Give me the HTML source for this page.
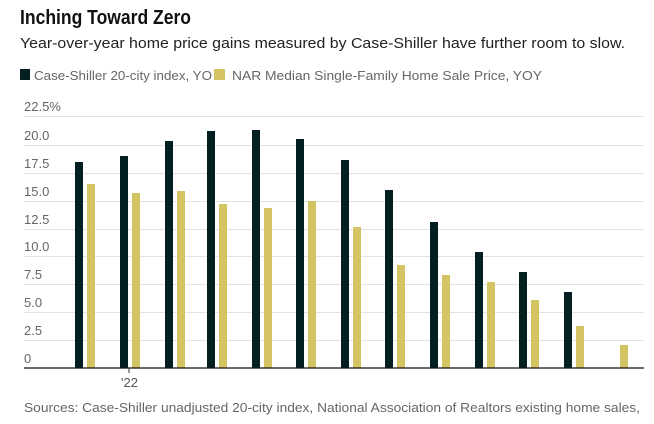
<!DOCTYPE html>
<html><head><meta charset="utf-8"><style>
html,body{margin:0;padding:0;background:#fff;}
svg{display:block;font-family:"Liberation Sans",sans-serif;}
</style></head><body>
<svg width="654" height="424" viewBox="0 0 654 424">
<text x="20" y="24" font-size="20" font-weight="bold" fill="#111" textLength="171" lengthAdjust="spacingAndGlyphs">Inching Toward Zero</text>
<text x="20" y="48" font-size="15" fill="#222" textLength="605" lengthAdjust="spacingAndGlyphs">Year-over-year home price gains measured by Case-Shiller have further room to slow.</text>
<rect x="20" y="69" width="10" height="11" fill="#031f21"/>
<text x="34" y="80" font-size="13" fill="#666" textLength="178" lengthAdjust="spacingAndGlyphs">Case-Shiller 20-city index, YO</text>
<rect x="214" y="69" width="11" height="11" fill="#d4c464"/>
<text x="232" y="80" font-size="13" fill="#666" textLength="310" lengthAdjust="spacingAndGlyphs">NAR Median Single-Family Home Sale Price, YOY</text>
<g stroke="#e2e2e2" stroke-width="1">
<line x1="24" x2="644" y1="116.5" y2="116.5"/><line x1="24" x2="644" y1="145.5" y2="145.5"/>
<line x1="24" x2="644" y1="173.5" y2="173.5"/><line x1="24" x2="644" y1="201.5" y2="201.5"/>
<line x1="24" x2="644" y1="229.5" y2="229.5"/><line x1="24" x2="644" y1="256.5" y2="256.5"/>
<line x1="24" x2="644" y1="284.5" y2="284.5"/><line x1="24" x2="644" y1="312.5" y2="312.5"/>
<line x1="24" x2="644" y1="340.5" y2="340.5"/>
</g>
<g font-size="13" fill="#666">
<text x="24" y="111">22.5%</text><text x="24" y="140">20.0</text><text x="24" y="168">17.5</text>
<text x="24" y="196">15.0</text><text x="24" y="224">12.5</text><text x="24" y="251">10.0</text>
<text x="24" y="279">7.5</text><text x="24" y="307">5.0</text><text x="24" y="335">2.5</text>
<text x="24" y="363">0</text>
</g>
<g fill="#031f21">
<rect x="75" y="162" width="8" height="206"/><rect x="120" y="156" width="8" height="212"/>
<rect x="165" y="141" width="8" height="227"/><rect x="207" y="131" width="8" height="237"/>
<rect x="252" y="130" width="8" height="238"/><rect x="296" y="139" width="8" height="229"/>
<rect x="341" y="160" width="8" height="208"/><rect x="385" y="190" width="8" height="178"/>
<rect x="430" y="222" width="8" height="146"/><rect x="475" y="252" width="8" height="116"/>
<rect x="519" y="272" width="8" height="96"/><rect x="564" y="292" width="8" height="76"/>
</g>
<g fill="#d4c464">
<rect x="87" y="184" width="8" height="184"/><rect x="132" y="193" width="8" height="175"/>
<rect x="177" y="191" width="8" height="177"/><rect x="219" y="204" width="8" height="164"/>
<rect x="264" y="208" width="8" height="160"/><rect x="308" y="201" width="8" height="167"/>
<rect x="353" y="227" width="8" height="141"/><rect x="397" y="265" width="8" height="103"/>
<rect x="442" y="275" width="8" height="93"/><rect x="487" y="282" width="8" height="86"/>
<rect x="531" y="300" width="8" height="68"/><rect x="576" y="326" width="8" height="42"/>
<rect x="620" y="345" width="8" height="23"/>
</g>
<line x1="24" x2="644" y1="368" y2="368" stroke="#111" stroke-width="1.3"/>
<line x1="129" x2="129" y1="368" y2="373" stroke="#333" stroke-width="1"/>
<text x="121" y="387" font-size="13" fill="#555">'22</text>
<text x="24" y="412" font-size="13" fill="#666" textLength="616" lengthAdjust="spacingAndGlyphs">Sources: Case-Shiller unadjusted 20-city index, National Association of Realtors existing home sales,</text>
</svg>
</body></html>
